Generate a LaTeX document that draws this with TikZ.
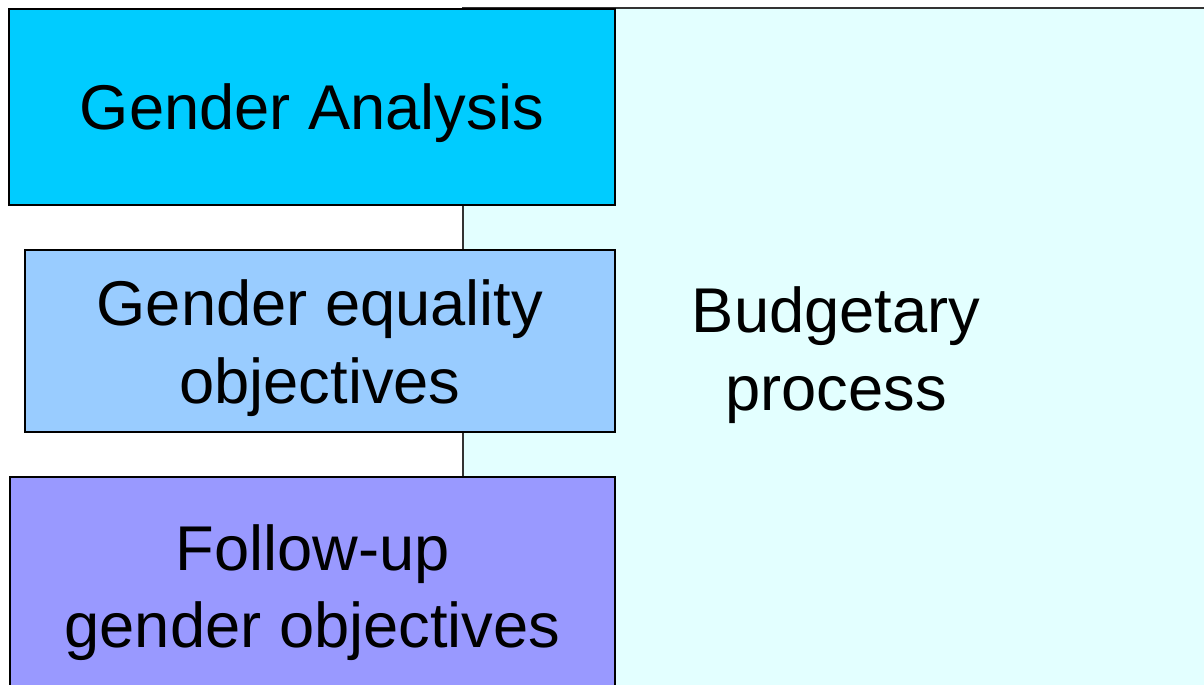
\documentclass[tikz,border=0pt]{standalone}
\usepackage{fontspec}
\setmainfont{Liberation Sans}
\definecolor{analysisblue}{HTML}{00CCFF}
\definecolor{objectiveblue}{HTML}{99CCFF}
\definecolor{followviolet}{HTML}{9999FF}
\definecolor{budgetcyan}{HTML}{E3FFFF}
% lowers the text of a box a little
\newcommand{\toplift}[1]{\rule{0pt}{#1}}
\begin{document}
\begin{tikzpicture}[x=0.02cm,y=-0.02cm,
    phase/.style={draw=black,line width=1.1pt,align=center,inner sep=0pt,
      font=\fontsize{36}{44}\selectfont},
    budget/.style={draw=black!80,line width=0.8pt,fill=budgetcyan,align=center,
      inner sep=0pt,font=\fontsize{36}{44}\selectfont}]
  \clip (0,0) rectangle (1204,685);
  % budgetary process in the back
  \node[budget,minimum width=14.92cm,minimum height=13.68cm] (budget) at (836,350) {\toplift{1.12cm}Budgetary\\process};
  % the three phases
  \node[phase,fill=analysisblue,minimum width=12.12cm,minimum height=3.92cm] (analysis) at (312,107) {\toplift{1.17cm}Gender Analysis};
  \node[phase,fill=objectiveblue,minimum width=11.8cm,minimum height=3.64cm] (objectives) at (320,341) {\toplift{1.2cm}Gender equality\\objectives};
  \node[phase,fill=followviolet,minimum width=12.1cm,minimum height=4.52cm] (followup) at (312.5,590) {\toplift{1.02cm}Follow-up\\gender objectives};
\end{tikzpicture}
\end{document}
